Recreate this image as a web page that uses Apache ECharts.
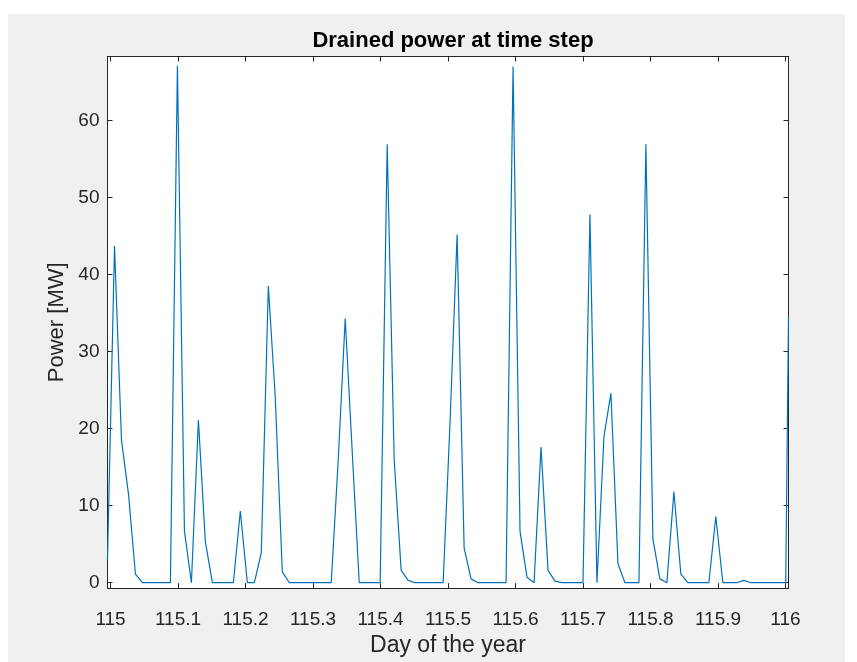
<!DOCTYPE html>
<html>
<head>
<meta charset="utf-8">
<script src="https://cdn.jsdelivr.net/npm/echarts@6/dist/echarts.min.js"></script>
<style>
  html, body { margin: 0; padding: 0; background: #ffffff; }
  #chart { width: 857px; height: 662px; }
</style>
</head>
<body>
<div id="chart"></div>
<script>
// Time stamps (day of the year) of each sample
const dayOfYear = [
  114.9955, 115.0059, 115.0162, 115.0266, 115.0369, 115.0473, 115.0577, 115.0680, 115.0784, 115.0887,
  115.0991, 115.1095, 115.1198, 115.1302, 115.1405, 115.1509, 115.1613, 115.1716, 115.1820, 115.1923,
  115.2027, 115.2131, 115.2234, 115.2338, 115.2441, 115.2545, 115.2649, 115.2752, 115.2856, 115.2959,
  115.3063, 115.3167, 115.3270, 115.3374, 115.3477, 115.3581, 115.3685, 115.3788, 115.3892, 115.3995,
  115.4099, 115.4203, 115.4306, 115.4410, 115.4513, 115.4617, 115.4721, 115.4824, 115.4928, 115.5031,
  115.5135, 115.5239, 115.5342, 115.5446, 115.5549, 115.5653, 115.5757, 115.5860, 115.5964, 115.6067,
  115.6171, 115.6275, 115.6378, 115.6482, 115.6585, 115.6689, 115.6793, 115.6896, 115.7000, 115.7103,
  115.7207, 115.7311, 115.7414, 115.7518, 115.7621, 115.7725, 115.7829, 115.7932, 115.8036, 115.8139,
  115.8243, 115.8347, 115.8450, 115.8554, 115.8657, 115.8761, 115.8865, 115.8968, 115.9072, 115.9175,
  115.9279, 115.9383, 115.9486, 115.9590, 115.9693, 115.9797, 115.9901, 116.0004, 116.0045
];
// Drained power [MW] at each time step
const drainedPowerMW = [
  3.0, 43.7, 18.5, 11.5, 1.1, 0, 0, 0, 0, 0,
  67.1, 6.7, 0, 21.1, 5.3, 0, 0, 0, 0, 9.3,
  0, 0, 3.9, 38.5, 24.0, 1.4, 0, 0, 0, 0,
  0, 0, 0, 16.0, 34.3, 17.0, 0, 0, 0, 0,
  56.9, 15.9, 1.6, 0.3, 0, 0, 0, 0, 0, 21.0,
  45.2, 4.5, 0.5, 0, 0, 0, 0, 0, 67.0, 6.7,
  0.7, 0, 17.6, 1.6, 0.2, 0, 0, 0, 0, 47.8,
  0, 19.0, 24.6, 2.5, 0, 0, 0, 56.9, 5.7, 0.5,
  0, 11.8, 1.1, 0, 0, 0, 0, 8.6, 0, 0,
  0, 0.3, 0, 0, 0, 0, 0, 0, 34.5
];
const xTickValues = [115, 115.1, 115.2, 115.3, 115.4, 115.5, 115.6, 115.7, 115.8, 115.9, 116];
const yTickValues = [0, 10, 20, 30, 40, 50, 60];

const axisColor = '#262626';
const xMin = 114.9955, xMax = 116.0045;
const yMin = -0.7, yMax = 68.3;

const chart = echarts.init(document.getElementById('chart'), null, { renderer: 'canvas' });

const fmtX = v => String(+(+v).toFixed(1));

const commonLine = { show: true, onZero: false, lineStyle: { color: axisColor, width: 1 } };
const fontFam = 'Liberation Sans, Arial, sans-serif';

chart.setOption({
  animation: false,
  backgroundColor: '#ffffff',
  graphic: [{
    type: 'rect', z: -100, silent: true,
    shape: { x: 8, y: 14, width: 837, height: 648 },
    style: { fill: '#f0f0f0' }
  }],
  title: {
    text: 'Drained power at time step',
    left: 448, top: 25, textAlign: 'center',
    textStyle: { fontFamily: fontFam, fontWeight: 'bold', fontSize: 22, color: '#000000' }
  },
  grid: {
    left: 107.5, top: 56.5, width: 681, height: 537,
    show: true, backgroundColor: '#ffffff', borderWidth: 0
  },
  xAxis: [{
    type: 'value', position: 'bottom', min: xMin, max: xMax,
    axisLine: commonLine,
    axisTick: { show: true, inside: true, length: 5, customValues: xTickValues, lineStyle: { color: axisColor } },
    axisLabel: { show: true, customValues: xTickValues, formatter: fmtX, margin: 22,
      fontFamily: fontFam, fontSize: 19, color: axisColor },
    splitLine: { show: false },
    name: 'Day of the year', nameLocation: 'middle', nameGap: 45,
    nameTextStyle: { fontFamily: fontFam, fontSize: 23, color: axisColor }
  }, {
    type: 'value', position: 'top', min: xMin, max: xMax,
    axisLine: commonLine,
    axisTick: { show: true, inside: true, length: 5, customValues: xTickValues, lineStyle: { color: axisColor } },
    axisLabel: { show: false },
    splitLine: { show: false }
  }],
  yAxis: [{
    type: 'value', position: 'left', min: yMin, max: yMax,
    axisLine: commonLine,
    axisTick: { show: true, inside: true, length: 5, customValues: yTickValues, lineStyle: { color: axisColor } },
    axisLabel: { show: true, customValues: yTickValues, margin: 8,
      fontFamily: fontFam, fontSize: 19, color: axisColor },
    splitLine: { show: false },
    name: 'Power [MW]', nameLocation: 'middle', nameGap: 32, nameRotate: 90,
    nameTextStyle: { fontFamily: fontFam, fontSize: 22, color: axisColor }
  }, {
    type: 'value', position: 'right', min: yMin, max: yMax,
    axisLine: commonLine,
    axisTick: { show: true, inside: true, length: 5, customValues: yTickValues, lineStyle: { color: axisColor } },
    axisLabel: { show: false },
    splitLine: { show: false }
  }],
  series: [{
    type: 'line',
    xAxisIndex: 0, yAxisIndex: 0,
    data: dayOfYear.map((d, i) => [d, drainedPowerMW[i]]),
    showSymbol: false,
    symbol: 'none',
    clip: true,
    lineStyle: { color: '#0072BD', width: 1.2 },
    itemStyle: { color: '#0072BD' }
  }]
});
</script>
</body>
</html>
